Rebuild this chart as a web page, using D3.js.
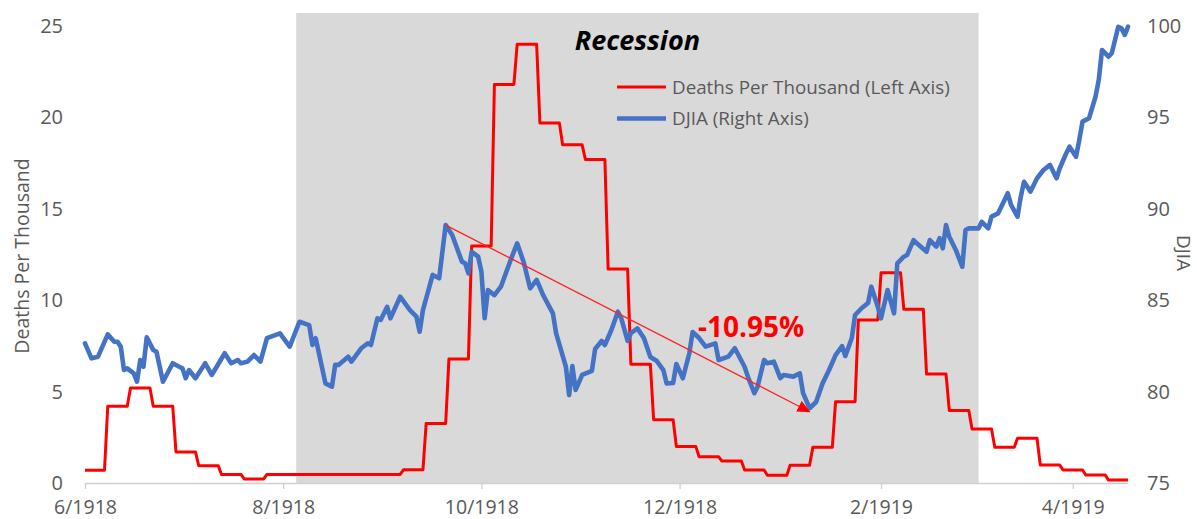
<!DOCTYPE html>
<html><head><meta charset="utf-8">
<script src="https://cdn.jsdelivr.net/npm/d3@7"></script>
<style>body{margin:0;background:#fff;overflow:hidden}</style>
</head><body><svg id="c" width="1197" height="519"></svg>
<script>
// ---------- data ----------
const baseDate = "1918-06-01";
const deathWeeks = ["1918-06-01","1918-06-08","1918-06-15","1918-06-22","1918-06-29","1918-07-06","1918-07-13","1918-07-20","1918-07-27","1918-08-03","1918-08-10","1918-08-17","1918-08-24","1918-08-31","1918-09-07","1918-09-14","1918-09-21","1918-09-28","1918-10-05","1918-10-12","1918-10-19","1918-10-26","1918-11-02","1918-11-09","1918-11-16","1918-11-23","1918-11-30","1918-12-07","1918-12-14","1918-12-21","1918-12-28","1919-01-04","1919-01-11","1919-01-18","1919-01-25","1919-02-01","1919-02-08","1919-02-15","1919-02-22","1919-03-01","1919-03-08","1919-03-15","1919-03-22","1919-03-29","1919-04-05","1919-04-12"];
const deathValues = [0.7,4.2,5.2,4.2,1.7,0.95,0.47,0.22,0.47,0.47,0.47,0.47,0.47,0.47,0.72,3.25,6.78,12.96,21.8,24.0,19.7,18.5,17.7,11.7,6.5,3.46,1.99,1.44,1.2,0.71,0.42,0.97,1.95,4.45,8.92,11.5,9.5,5.96,3.96,2.95,1.95,2.45,0.98,0.71,0.44,0.16];
const lastDeathDay = "1919-04-18";

// DJIA: days after baseDate, and index level
const djiaDayOffsets = [0,2,4,7,9,10,11,12,13,15,16,17,18,19,21,22,24,27,29,30,31,32,34,37,39,43,45,47,48,50,52,54,56,60,63,66,69,70,71,72,74,76,77,78,81,82,85,87,88,90,91,93,94,97,100,102,103,104,107,109,111,113,116,117,118,119,121,122,123,124,126,128,131,133,135,137,139,141,144,145,148,149,150,151,153,156,157,159,160,162,164,165,167,168,170,172,174,176,178,179,181,182,184,186,187,189,191,194,195,198,200,203,204,206,207,209,210,212,214,215,218,220,221,223,225,227,229,231,233,234,236,237,239,241,242,244,245,247,249,250,252,253,255,256,259,260,262,263,264,265,266,268,270,271,272,275,276,278,279,281,283,284,285,287,288,289,291,293,295,297,299,300,302,303,305,306,307,309,311,312,313,315,316,318,319,320,321];
const djiaValues = [82.64,81.82,81.91,83.13,82.73,82.73,82.46,81.18,81.27,81.00,
80.54,81.73,81.36,82.97,82.28,82.18,80.54,81.55,81.36,81.27,
80.73,81.18,80.73,81.55,80.91,82.10,81.55,81.73,81.55,81.64,
82.00,81.64,82.92,83.19,82.46,83.82,83.64,82.55,82.92,82.10,
80.45,80.27,81.46,81.46,81.91,81.64,82.37,82.64,82.55,84.01,
83.92,84.64,84.01,85.19,84.46,84.10,83.28,84.46,86.38,86.20,
89.11,88.57,87.11,87.02,86.47,87.65,87.38,86.56,84.01,85.56,
85.28,85.74,87.20,88.11,87.09,85.65,86.11,85.28,84.28,83.19,
81.36,79.81,81.40,80.09,80.91,81.13,82.33,82.77,82.55,83.37,
84.37,84.03,82.77,83.19,83.46,82.93,81.89,81.67,81.18,80.45,
80.47,81.51,80.73,82.10,83.26,82.93,82.46,82.64,81.73,81.91,
82.37,81.36,80.82,79.91,80.27,81.73,81.55,81.64,80.74,80.91,
80.82,81.00,79.92,79.09,79.43,80.45,81.18,82.00,82.49,81.95,
82.93,84.19,84.56,84.85,85.74,84.64,84.01,85.56,84.28,87.02,
87.38,87.47,88.29,88.11,87.65,88.29,87.93,88.39,87.84,89.11,
88.47,87.75,86.83,88.84,88.93,88.93,89.29,88.93,89.57,89.75,
90.48,90.85,90.21,89.57,90.66,91.48,90.94,91.67,92.12,92.40,
91.67,92.22,93.04,93.40,92.85,93.76,94.77,94.95,96.13,97.05,
98.69,98.32,98.51,99.96,99.87,99.51,99.96];

const recessionDates = ["1918-08-05","1919-03-03"];
const recessionLabel = "Recession";
const trendDates = ["1918-09-20","1919-01-10"];
const trendValues = [89.11, 78.9];
const trendLabel = "-10.95%";
const trendLabelDate = "1918-12-23";
const trendLabelValue = 83.0;
const leftTicks = [0,5,10,15,20,25];
const rightTicks = [75,80,85,90,95,100];
const xTickDates = ["1918-06-01","1918-08-01","1918-10-01","1918-12-01","1919-02-01","1919-04-01"];
const seriesNames = ["Deaths Per Thousand (Left Axis)","DJIA (Right Axis)"];
const leftTitle = "Deaths Per Thousand";
const rightTitle = "DJIA";

// ---------- layout ----------
const W = 1197, H = 519;
const plot = {left: 85, right: 1128, top: 13, bottom: 483, yTop: 26};
const RED = "#ff0000", BLUE = "#4472c4", GRAY = "#595959", BAND = "#d9d9d9";
const FONT = "'Open Sans', 'Liberation Sans', sans-serif";

const parse = d3.timeParse("%Y-%m-%d");
const base = parse(baseDate);
const svg = d3.select("#c");

const x = d3.scaleTime().domain([base, parse(lastDeathDay)]).range([plot.left, plot.right]);
const yL = d3.scaleLinear().domain([0, 25]).range([plot.bottom, plot.yTop]);
const yR = d3.scaleLinear().domain([75, 100]).range([plot.bottom, plot.yTop]);

// recession band
const r0 = parse(recessionDates[0]), r1 = parse(recessionDates[1]);
svg.append("rect")
  .attr("x", x(r0)).attr("y", plot.top)
  .attr("width", x(r1) - x(r0)).attr("height", plot.bottom - plot.top)
  .attr("fill", BAND);

// x axis
const xAxis = d3.axisBottom(x)
  .tickValues(xTickDates.map(parse))
  .tickFormat(d3.timeFormat("%-m/%Y"))
  .tickSize(6).tickSizeOuter(0).tickPadding(11);
const gx = svg.append("g").attr("transform", `translate(0,${plot.bottom})`).call(xAxis);
gx.select(".domain").attr("stroke", "#d0d0d0").attr("stroke-width", 1.3);
gx.selectAll(".tick line").attr("stroke", "#d0d0d0").attr("stroke-width", 1.3);
gx.selectAll(".tick text").attr("fill", GRAY).style("font-family", FONT).style("font-size", "19.5px");

// left axis
const gl = svg.append("g").attr("transform", `translate(${plot.left},0)`)
  .call(d3.axisLeft(yL).tickValues(leftTicks).tickSize(0).tickPadding(22));
gl.select(".domain").remove();
gl.selectAll(".tick text").attr("fill", GRAY).style("font-family", FONT).style("font-size", "20px");

// right axis
const gr = svg.append("g").attr("transform", `translate(${plot.right},0)`)
  .call(d3.axisRight(yR).tickValues(rightTicks).tickSize(0).tickPadding(19));
gr.select(".domain").remove();
gr.selectAll(".tick text").attr("fill", GRAY).style("font-family", FONT).style("font-size", "20px");

// axis titles
svg.append("text").text(leftTitle)
  .attr("transform", "translate(22,256) rotate(-90)")
  .attr("text-anchor", "middle").attr("dy", "0.35em")
  .attr("fill", GRAY).style("font-family", FONT).style("font-size", "19.5px");
svg.append("text").text(rightTitle)
  .attr("transform", "translate(1184,253) rotate(90)")
  .attr("text-anchor", "middle").attr("dy", "0.35em")
  .attr("fill", GRAY).style("font-family", FONT).style("font-size", "19px");

// deaths series: constant weekly values, drawn as daily steps
const deathPts = [];
deathWeeks.forEach((d, i) => {
  const s = parse(d);
  const e = i < deathWeeks.length - 1 ? d3.timeDay.offset(s, 6) : parse(lastDeathDay);
  deathPts.push({date: s, v: deathValues[i]});
  deathPts.push({date: e, v: deathValues[i]});
});
svg.append("path").datum(deathPts)
  .attr("fill", "none").attr("stroke", RED).attr("stroke-width", 3)
  .attr("stroke-linejoin", "round")
  .attr("d", d3.line().x(d => x(d.date)).y(d => yL(d.v)));

// DJIA series
const djia = djiaDayOffsets.map((o, i) => ({date: d3.timeDay.offset(base, o), v: djiaValues[i]}));
svg.append("path").datum(djia)
  .attr("fill", "none").attr("stroke", BLUE).attr("stroke-width", 4.6)
  .attr("stroke-linejoin", "round").attr("stroke-linecap", "round")
  .attr("d", d3.line().x(d => x(d.date)).y(d => yR(d.v)));

// trend arrow
svg.append("defs").append("marker")
  .attr("id", "arr").attr("markerUnits", "userSpaceOnUse")
  .attr("markerWidth", 14).attr("markerHeight", 12)
  .attr("refX", 12).attr("refY", 6).attr("orient", "auto")
  .append("path").attr("d", "M0,0 L13,6 L0,12 Z").attr("fill", RED);
svg.append("line")
  .attr("x1", x(parse(trendDates[0]))).attr("y1", yR(trendValues[0]))
  .attr("x2", x(parse(trendDates[1]))).attr("y2", yR(trendValues[1]))
  .attr("stroke", "#f22").attr("stroke-width", 1.3)
  .attr("marker-end", "url(#arr)");
svg.append("text").text(trendLabel)
  .attr("x", x(parse(trendLabelDate))).attr("y", yR(trendLabelValue))
  .attr("text-anchor", "middle").attr("fill", RED)
  .style("font-family", FONT).style("font-weight", "bold").style("font-size", "28px");

// recession label
svg.append("text").text(recessionLabel)
  .attr("x", (x(r0) + x(r1)) / 2).attr("y", 50)
  .attr("text-anchor", "middle").attr("fill", "#000")
  .style("font-family", FONT).style("font-weight", "bold").style("font-style", "italic")
  .style("font-size", "27px");

// legend
const leg = svg.append("g");
[RED, BLUE].forEach((c, i) => {
  const yy = 87 + i * 31.5;
  leg.append("line").attr("x1", 617).attr("x2", 666).attr("y1", yy).attr("y2", yy)
    .attr("stroke", c).attr("stroke-width", i ? 4.6 : 3);
  leg.append("text").text(seriesNames[i]).attr("x", 672).attr("y", yy).attr("dy", "0.35em")
    .attr("fill", GRAY).style("font-family", FONT).style("font-size", "18.8px");
});
</script>
</body></html>
